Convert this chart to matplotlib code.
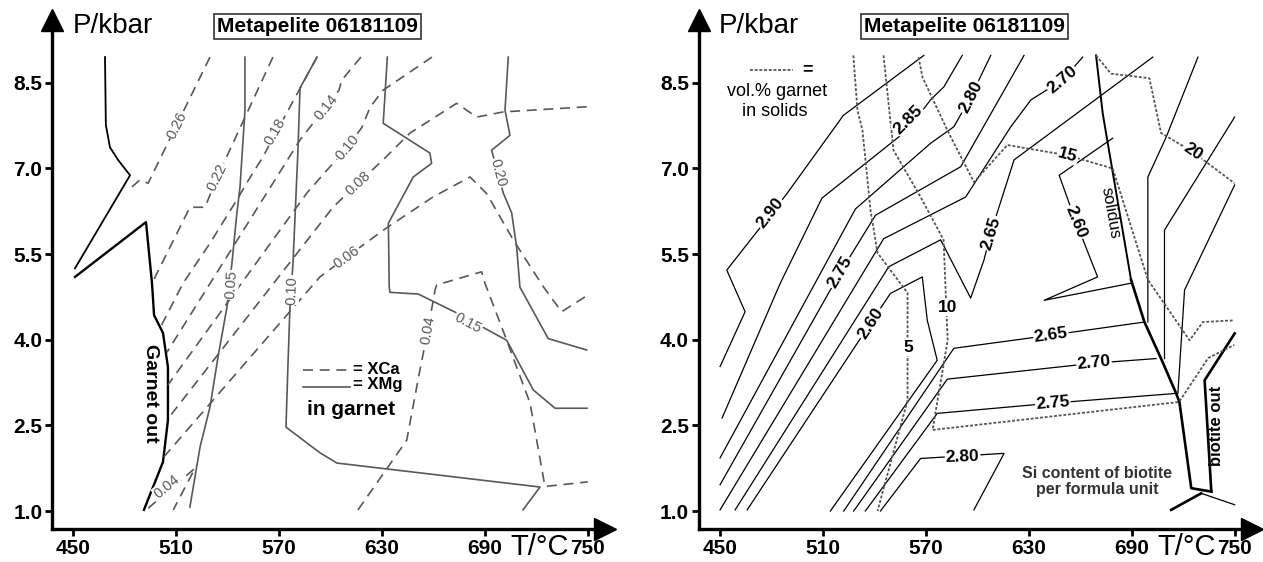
import matplotlib
matplotlib.use("Agg")
import matplotlib.pyplot as plt

plt.rcParams['font.family'] = ['Liberation Sans', 'DejaVu Sans']

t_ticks = [450, 510, 570, 630, 690, 750]
p_ticks = [1.0, 2.5, 4.0, 5.5, 7.0, 8.5]

# ---- left panel: XCa / XMg isopleths in garnet (T in degC, P in kbar)
garnet_out_upper = ([468.5, 469.0, 471.4, 476.1, 483.1, 451.0], [8.95, 7.76, 7.37, 7.15, 6.88, 5.25])
garnet_out_lower = ([451.0, 492.4, 495.9, 497.1, 502.3, 505.2, 505.2, 502.3, 496.5, 491.2],
                    [5.10, 6.06, 4.99, 4.43, 4.12, 3.52, 2.59, 1.86, 1.42, 1.02])

xca_026 = ([529.7, 493.6, 488.9, 482.0], [8.95, 6.74, 6.80, 6.62])
xca_022 = ([566.4, 534.4, 526.8, 518.0, 512.2, 495.9], [8.95, 6.88, 6.32, 6.32, 5.97, 4.99])
xca_018 = ([592.1, 560.5, 551.0, 546.0, 529.7, 514.0, 500.5], [8.95, 7.20, 6.74, 6.48, 5.69, 4.99, 4.20])
xca_014 = ([617.7, 606.6, 604.9, 582.2, 504.6], [8.95, 8.55, 8.37, 7.50, 3.78])
xca_010 = ([659.1, 630.6, 623.0, 618.3, 609.6, 597.9, 586.2, 505.2], [8.95, 8.37, 8.07, 7.72, 7.36, 6.97, 6.57, 3.21])
xca_008 = ([749.3, 700.7, 685.2, 673.5, 646.3, 630.6, 616.0, 601.4, 504.5],
           [8.08, 7.99, 7.90, 8.14, 7.62, 7.15, 6.74, 6.32, 2.59])
xca_006 = ([748.3, 734.7, 724.0, 706.5, 691.0, 681.3, 659.7, 632.7, 609.4, 593.8, 502.3],
           [4.75, 4.49, 4.93, 5.75, 6.56, 6.85, 6.50, 5.96, 5.45, 5.10, 1.93])
xca_004_mid = ([616.0, 644.4, 652.1, 656.8, 660.9, 661.9, 688.1, 690.0, 702.7, 716.3, 725.0, 750.0],
               [1.02, 2.24, 3.47, 4.17, 4.87, 4.96, 5.19, 4.99, 3.99, 2.89, 1.43, 1.51])
xca_004_low = ([493.7, 521.0, 508.3], [1.05, 1.75, 1.02])

xmg_005 = ([550.1, 550.1, 547.2, 545.4, 542.5, 539.6, 534.4, 529.7, 523.9, 518.0],
           [8.95, 8.02, 6.67, 6.22, 5.34, 4.57, 3.70, 2.82, 2.12, 1.07])
xmg_010 = ([592.1, 582.2, 581.0, 578.1, 576.3, 575.2, 574.0, 593.8, 603.7, 722.1, 712.2],
           [8.95, 8.41, 7.32, 5.34, 4.55, 3.59, 2.47, 2.02, 1.84, 1.42, 1.02])
xmg_015 = ([633.1, 630.7, 657.9, 658.9, 648.2, 633.7, 634.2, 634.6, 651.1, 673.5, 702.7, 718.2, 730.9, 749.5],
           [8.95, 7.79, 7.27, 7.09, 6.85, 6.04, 4.92, 4.83, 4.80, 4.47, 3.99, 3.12, 2.80, 2.80])
xmg_020 = ([703.6, 701.7, 704.6, 693.9, 700.7, 705.6, 708.5, 710.4, 726.9, 749.3],
           [8.95, 8.02, 7.58, 7.32, 6.57, 6.22, 5.62, 4.92, 4.02, 3.82])

left_labels = [('0.26', 510.5, 7.76, 64), ('0.22', 534.0, 6.85, 64), ('0.18', 567.5, 7.64, 60),
               ('0.14', 597.5, 8.07, 51), ('0.10', 609.6, 7.36, 50), ('0.08', 616.0, 6.74, 43),
               ('0.06', 609.6, 5.45, 36), ('0.04', 656.8, 4.17, 80), ('0.04', 504.5, 1.43, 40),
               ('0.05', 542.0, 4.96, 86), ('0.10', 577.3, 4.87, 88), ('0.15', 680.1, 4.29, -28),
               ('0.20', 697.6, 6.92, -75)]

# ---- right panel: Si per formula unit in biotite + vol.% garnet
si_290 = ([568.8, 521.9, 489.0, 453.9, 464.6, 450.0], [8.98, 7.93, 6.56, 5.22, 4.49, 3.53])
si_285 = ([591.2, 580.5, 572.7, 559.1, 509.4, 485.1, 451.2], [8.98, 8.43, 8.20, 7.67, 6.48, 4.99, 2.63])
si_280 = ([607.8, 596.1, 586.3, 572.7, 528.9, 450.0], [8.98, 8.25, 7.73, 7.44, 6.29, 1.93])
si_275 = ([627.2, 590.3, 540.6, 520.1, 450.0], [8.98, 7.03, 6.18, 5.18, 1.46])
si_270 = ([661.4, 649.7, 631.2, 619.5, 593.2, 545.4, 450.0], [8.95, 8.55, 8.20, 7.73, 6.50, 5.77, 1.02])
si_265 = ([702.3, 621.4, 607.8, 603.9, 596.1, 578.6, 548.4, 458.8], [8.95, 7.15, 5.87, 5.40, 4.73, 5.75, 5.28, 1.02])
si_260 = ([465.8, 537.7, 549.3, 567.9, 570.8, 576.6, 514.3], [1.02, 4.29, 4.81, 5.10, 4.34, 3.64, 1.00])
si_265_low = ([522.1, 586.3, 642.9, 697.4], [1.00, 3.85, 4.08, 4.31])
si_270_low = ([527.9, 582.5, 668.2, 704.2], [1.00, 3.31, 3.59, 3.67])
si_275_low = ([534.7, 576.6, 643.8, 716.0], [1.00, 2.71, 2.89, 3.06])
si_280_low = ([543.5, 566.9, 615.6, 598.0], [1.00, 1.92, 2.01, 1.02])
si_260_hi = ([678.9, 647.7, 657.5, 670.1, 638.9, 689.6], [7.53, 6.88, 6.06, 5.10, 4.69, 4.99])
si_extra_a = ([728.6, 710.1, 699.4, 699.4], [8.95, 7.55, 6.85, 4.31])
si_extra_b = ([750.0, 709.1, 709.1], [7.90, 5.92, 3.67])
si_extra_c = ([750.0, 720.8, 716.9], [6.71, 4.87, 3.06])

solidus_upper = ([669.2, 673.1, 689.6], [8.98, 7.96, 5.05])
solidus_lower = ([689.6, 697.4, 707.1, 715.9, 717.8, 724.7, 736.4], [5.05, 4.31, 3.67, 3.06, 2.91, 1.40, 1.34])
biotite_out = ([736.4, 732.5, 750.0], [1.34, 3.29, 4.11])
bt_foot_a = ([713.0, 730.5], [1.02, 1.31])
bt_foot_b = ([730.5, 750.0], [1.31, 1.11])

grt_05 = ([527.7, 530.1, 533.0, 537.7, 541.8, 559.3, 559.3, 541.8], [8.98, 8.02, 7.67, 6.27, 5.52, 4.82, 2.94, 1.00])
grt_10 = ([545.3, 551.1, 553.4, 566.9, 580.3, 582.7, 573.9, 717.6, 734.6, 749.8],
          [8.98, 7.32, 7.20, 6.50, 5.75, 3.99, 2.42, 2.91, 3.68, 3.91])
grt_15 = ([565.7, 568.0, 582.5, 598.0, 617.5, 652.6, 678.9, 699.4, 723.7, 731.5, 749.8],
          [8.95, 8.60, 7.67, 6.76, 7.41, 7.23, 7.00, 5.05, 3.99, 4.31, 4.34])
grt_20 = ([669.2, 677.9, 700.3, 707.1, 725.6, 749.9], [8.98, 8.66, 8.58, 7.62, 7.29, 6.74])

right_labels = [('2.90', 479.2, 6.22, 52), ('2.85', 559.9, 7.85, 45), ('2.80', 596.1, 8.25, 63),
                ('2.70', 649.7, 8.55, 40), ('2.75', 520.1, 5.18, 60), ('2.65', 607.8, 5.87, 73),
                ('2.60', 537.7, 4.29, 57), ('2.60', 657.5, 6.06, -68), ('2.65', 642.9, 4.08, 8),
                ('2.70', 668.0, 3.59, 6), ('2.75', 644.0, 2.89, 5), ('2.80', 591.4, 1.95, 2),
                ('5', 559.9, 3.87, 0), ('10', 582.7, 4.57, 0), ('15', 652.8, 7.23, -15),
                ('20', 725.8, 7.29, -34)]

GRAY = '#585858'
DASH = (0, (6, 4))
DOT = (0, (1.6, 1.0))


def setup(ax):
    ax.set_xlim(437.6, 760)
    ax.set_ylim(0.685, 9.6)
    for s in ['top', 'right']:
        ax.spines[s].set_visible(False)
    for s in ['left', 'bottom']:
        ax.spines[s].set_linewidth(2.4)
    ax.set_xticks(t_ticks)
    ax.set_yticks(p_ticks)
    ax.set_yticklabels([f'{p:.1f}' for p in p_ticks])
    ax.tick_params(width=2, length=5, labelsize=15, pad=2)
    for lab in ax.get_xticklabels() + ax.get_yticklabels():
        lab.set_fontweight('bold')
    ax.plot([1], [0], marker='>', ms=16, color='k', transform=ax.transAxes, clip_on=False)
    ax.plot([0], [1], marker='^', ms=16, color='k', transform=ax.transAxes, clip_on=False)
    ax.text(449.5, 9.5, 'P/kbar', fontsize=20, ha='left', va='center')
    ax.text(722, 0.37, 'T/°C', fontsize=21, ha='center', va='center', clip_on=False)
    ax.text(592.5, 9.48, 'Metapelite 06181109', fontsize=15, fontweight='bold', ha='center', va='center',
            bbox=dict(boxstyle='square,pad=0.15', fc='white', ec='#333333', lw=1.2))


def put_labels(ax, labels, color, size, weight):
    for txt, t, p, rot in labels:
        ax.text(t, p, txt, rotation=rot, rotation_mode='anchor', ha='center', va='center',
                fontsize=size, fontweight=weight, color=color, zorder=5,
                bbox=dict(boxstyle='square,pad=0.05', fc='white', ec='none'))


fig = plt.figure(figsize=(12.63, 5.62), dpi=100)
ax1 = fig.add_axes([52 / 1263, 33 / 562, 553 / 1263, 509 / 562])
ax2 = fig.add_axes([698.8 / 1263, 33 / 562, 553 / 1263, 509 / 562])

# left panel
ax1.plot(*garnet_out_upper, color='k', lw=1.3)
ax1.plot(*garnet_out_lower, color='k', lw=1.7)
for ln in [xca_026, xca_022, xca_018, xca_014, xca_010, xca_008, xca_006, xca_004_mid, xca_004_low]:
    ax1.plot(*ln, color=GRAY, lw=1.2, ls=DASH)
for ln in [xmg_005, xmg_010, xmg_015, xmg_020]:
    ax1.plot(*ln, color=GRAY, lw=1.2)
put_labels(ax1, left_labels, GRAY, 10.5, 'normal')

ax1.plot([584, 611.4], [3.47, 3.47], color=GRAY, lw=1.2, ls=DASH)
ax1.plot([584, 611.4], [3.17, 3.17], color=GRAY, lw=1.2)
ax1.text(613, 3.47, '= XCa', fontsize=12, fontweight='bold', ha='left', va='center')
ax1.text(613, 3.22, '= XMg', fontsize=12, fontweight='bold', ha='left', va='center')
ax1.text(586, 2.78, 'in garnet', fontsize=15, fontweight='bold', ha='left', va='center')
ax1.text(495.3, 3.07, 'Garnet out', fontsize=14, fontweight='bold', rotation=-90, ha='center', va='center')
setup(ax1)

# right panel
for ln in [si_290, si_285, si_280, si_275, si_270, si_265, si_260, si_265_low, si_270_low,
           si_275_low, si_280_low, si_260_hi, si_extra_a, si_extra_b, si_extra_c, bt_foot_b]:
    ax2.plot(*ln, color='k', lw=0.9)
ax2.plot(*solidus_upper, color='k', lw=1.4)
for ln in [solidus_lower, biotite_out, bt_foot_a]:
    ax2.plot(*ln, color='k', lw=1.9)
for ln in [grt_05, grt_10, grt_15, grt_20]:
    ax2.plot(*ln, color='#555555', lw=1.3, ls=DOT)
put_labels(ax2, right_labels, 'k', 12.5, 'bold')

ax2.plot([467.5, 492.7], [8.72, 8.72], color='#555555', lw=1.3, ls=DOT)
ax2.text(500.8, 8.72, '=', fontsize=13, fontweight='bold', ha='center', va='center')
ax2.text(483.3, 8.34, 'vol.% garnet', fontsize=13, ha='center', va='center')
ax2.text(481.6, 7.99, 'in solids', fontsize=13, ha='center', va='center')
ax2.text(677.9, 6.22, 'solidus', fontsize=12, rotation=-80, ha='center', va='center')
ax2.text(739.3, 2.49, 'biotite out', fontsize=12, fontweight='bold', rotation=90, ha='center', va='center')
ax2.text(669.7, 1.51, 'Si content of biotite\nper formula unit', fontsize=11.5, fontweight='bold',
         ha='center', va='center', color='#333333', linespacing=1.1)
setup(ax2)

fig.savefig('out.png', dpi=100)
